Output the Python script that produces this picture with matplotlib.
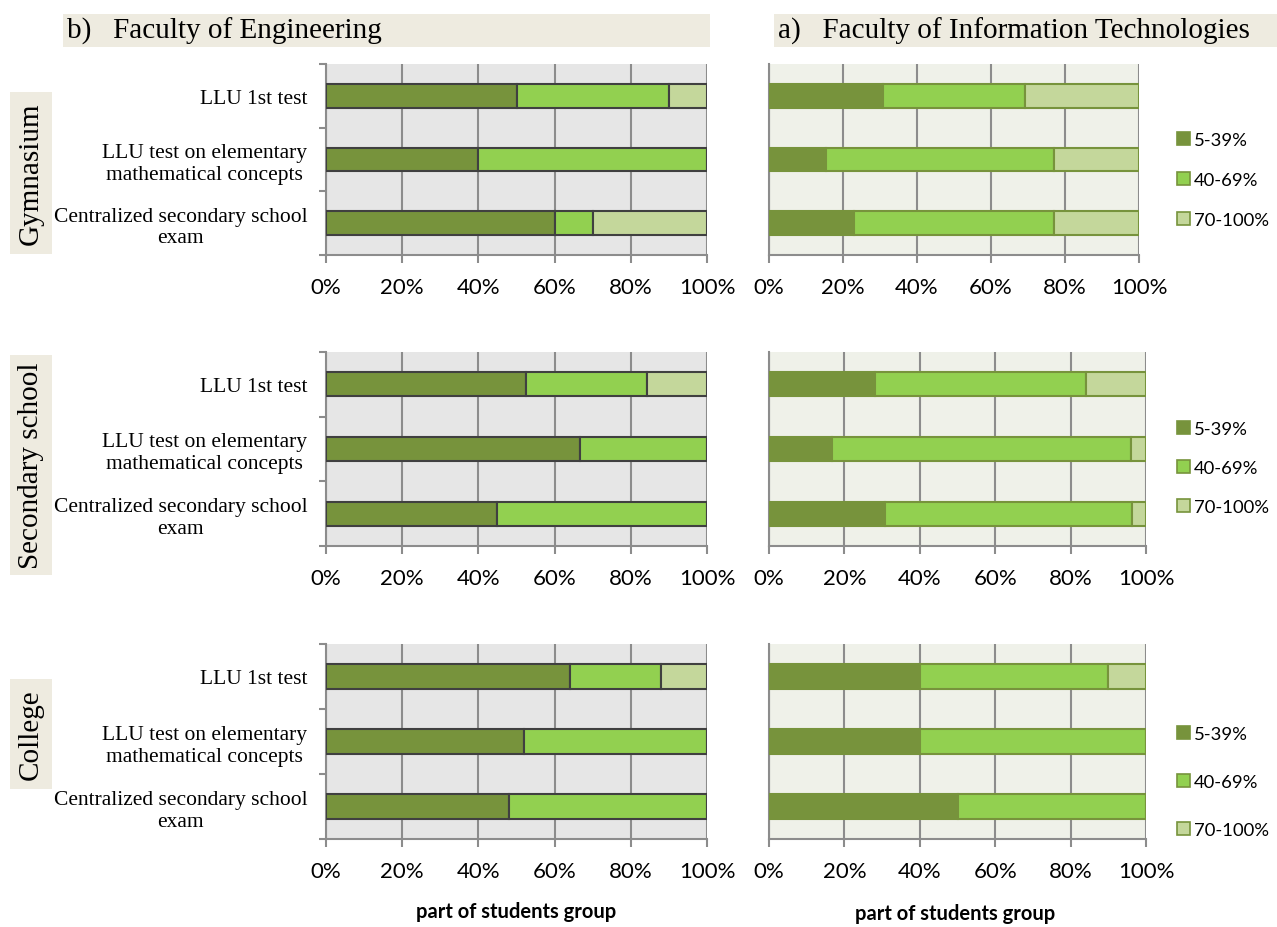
import matplotlib
matplotlib.use("Agg")
import matplotlib.pyplot as plt
from matplotlib.patches import Rectangle, Patch

W, H = 1277, 928

groups = ["Gymnasium", "Secondary school", "College"]
tests = ["LLU 1st test",
         "LLU test on elementary\nmathematical concepts",
         "Centralized secondary school\nexam"]
levels = ["5-39%", "40-69%", "70-100%"]
ticks = [0, 20, 40, 60, 80, 100]

# Faculty of Engineering, one list per group, one value per test
eng_low = [[50, 40, 60], [52.6, 66.7, 44.8], [64, 52, 48]]
eng_mid = [[40, 60, 10], [31.6, 33.3, 55.2], [24, 48, 52]]
eng_high = [[10, 0, 30], [15.8, 0, 0], [12, 0, 0]]

# Faculty of Information Technologies
it_low = [[30.8, 15.4, 23.1], [28, 16.7, 30.8], [40, 40, 50]]
it_mid = [[38.5, 61.5, 53.8], [56, 79.2, 65.4], [50, 60, 50]]
it_high = [[30.7, 23.1, 23.1], [16, 4.1, 3.8], [10, 0, 0]]

colors = ["#77933C", "#92D050", "#C4D79B"]
beige = "#EEEBE0"
serif = "Liberation Serif"
sans = "Lato"


def box(x0, y0, x1, y1):
    return [x0 / W, 1 - y1 / H, (x1 - x0) / W, (y1 - y0) / H]


fig = plt.figure(figsize=(W / 100, H / 100), dpi=100)

row_top = [65, 353, 645]
row_bot = [256, 547, 840]
right_end = [1139, 1146, 1146]
label_box = [(93, 255), (356, 576), (680, 790)]
legend_mid = [181, 469, 783]
legend_gap = [1.28, 1.26, 1.72]


def draw(ax, low, mid, high, bg, edge, show_labels):
    ax.set_facecolor(bg)
    y = range(len(tests))
    left = [0] * len(tests)
    for vals, c in zip([low, mid, high], colors):
        ax.barh(y, vals, left=left, height=0.375, color=c,
                edgecolor=edge, linewidth=1.5, zorder=3)
        left = [a + b for a, b in zip(left, vals)]
    ax.set_xlim(0, 100)
    ax.set_ylim(2.5, -0.5)
    ax.set_xticks(ticks)
    ax.set_xticklabels([f"{t}%" for t in ticks], fontsize=16,
                       fontfamily=sans)
    ax.xaxis.grid(True, color="#8C8C8C", linewidth=1.5, zorder=1)
    ax.tick_params(axis="x", length=6, width=1.5, color="#8C8C8C", pad=10)
    for s in ["top", "right"]:
        ax.spines[s].set_visible(False)
    for s in ["left", "bottom"]:
        ax.spines[s].set_color("#8C8C8C")
        ax.spines[s].set_linewidth(1.5)
    ax.set_yticks(list(y))
    if show_labels:
        ax.set_yticklabels(tests, fontsize=15.5, fontfamily=serif,
                           multialignment="center", linespacing=1.2)
        ax.set_yticks([-0.5, 0.5, 1.5, 2.5], minor=True)
        ax.tick_params(axis="y", which="major", length=0, pad=13.5)
        ax.tick_params(axis="y", which="minor", length=5, width=1.5,
                       color="#8C8C8C")
    else:
        ax.set_yticklabels([])
        ax.tick_params(axis="y", length=0)


for i, g in enumerate(groups):
    axl = fig.add_axes(box(326, row_top[i], 707, row_bot[i]))
    draw(axl, eng_low[i], eng_mid[i], eng_high[i], "#E6E6E6", "#404040", True)
    axr = fig.add_axes(box(769, row_top[i], right_end[i], row_bot[i]))
    draw(axr, it_low[i], it_mid[i], it_high[i], "#EFF1E9", "#77933C", False)

    handles = [Patch(facecolor=c, edgecolor="#77933C", linewidth=1.2)
               for c in colors]
    fig.legend(handles, levels, loc="center left",
               bbox_to_anchor=(1160 / W, 1 - legend_mid[i] / H),
               frameon=False, prop={"family": sans, "size": 13.3},
               handlelength=0.7, handleheight=0.7, handletextpad=0.25,
               labelspacing=legend_gap[i])

    y0, y1 = label_box[i]
    fig.add_artist(Rectangle((10 / W, 1 - y1 / H), 42 / W, (y1 - y0) / H,
                             transform=fig.transFigure, facecolor=beige,
                             edgecolor="none"))
    fig.text(31 / W, 1 - (y0 + y1) / 2 / H, g, rotation=90, ha="center",
             va="center", fontsize=21, fontfamily=serif)

# headers
for (x0, x1), t in [((63, 710), "b)   Faculty of Engineering"),
                    ((774, 1277), "a)   Faculty of Information Technologies")]:
    fig.add_artist(Rectangle((x0 / W, 1 - 48 / H), (x1 - x0) / W, 33 / H,
                             transform=fig.transFigure, facecolor=beige,
                             edgecolor="none"))
    fig.text((x0 + 4) / W, 1 - 31 / H, t, ha="left", va="center",
             fontsize=21, fontfamily=serif)

fig.text(516 / W, 1 - 912 / H, "part of students group", ha="center",
         va="center", fontsize=14.5, fontweight="bold", fontfamily=sans)
fig.text(955 / W, 1 - 914 / H, "part of students group", ha="center",
         va="center", fontsize=14.5, fontweight="bold", fontfamily=sans)

fig.savefig("out.png", dpi=100)
